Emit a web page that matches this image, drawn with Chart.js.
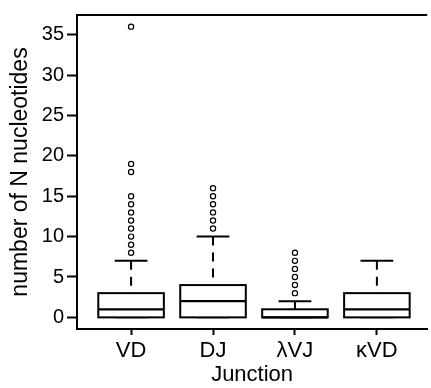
<!DOCTYPE html>
<html>
<head>
<meta charset="utf-8">
<script src="https://cdn.jsdelivr.net/npm/chart.js@4/dist/chart.umd.min.js"></script>
<style>
html, body { margin: 0; padding: 0; background: #fff; overflow: hidden; }
</style>
</head>
<body>
<canvas id="plot" width="431" height="388"></canvas>
<script>
const categories = ["VD", "DJ", "λVJ", "κVD"];
const lowerWhisker = [0, 0, 0, 0];
const q1 = [0, 0, 0, 0];
const median = [1, 2, 0, 1];
const q3 = [3, 4, 1, 3];
const upperWhisker = [7, 10, 2, 7];
const outliers = [
  [8, 9, 10, 11, 12, 13, 14, 15, 18, 19, 36],
  [11, 12, 13, 14, 15, 16],
  [3, 4, 5, 6, 7, 8],
  []
];
const yTicks = [0, 5, 10, 15, 20, 25, 30, 35];

const FONT = "'Liberation Sans', Arial, sans-serif";
const ctx = document.querySelector("#plot").getContext("2d");

const outlierPoints = [];
for (let i = 0; i < outliers.length; i++) {
  for (const v of outliers[i]) outlierPoints.push({ x: i + 1, y: v });
}

// boxes, medians, whiskers and the top frame line
const boxPlugin = {
  id: "boxes",
  beforeDatasetsDraw(chart) {
    const { ctx, chartArea, scales: { x, y } } = chart;
    ctx.save();
    ctx.strokeStyle = "#000";
    ctx.lineWidth = 2;
    ctx.beginPath();
    ctx.moveTo(chartArea.left, chartArea.top);
    ctx.lineTo(chartArea.right, chartArea.top);
    ctx.stroke();

    for (let i = 0; i < categories.length; i++) {
      const c = i + 1;
      const xl = x.getPixelForValue(c - 0.4);
      const xr = x.getPixelForValue(c + 0.4);
      const xc = x.getPixelForValue(c);
      const sl = x.getPixelForValue(c - 0.2);
      const sr = x.getPixelForValue(c + 0.2);
      const yq1 = y.getPixelForValue(q1[i]);
      const yq3 = y.getPixelForValue(q3[i]);
      const ym = y.getPixelForValue(median[i]);
      const yhi = y.getPixelForValue(upperWhisker[i]);
      const ylo = y.getPixelForValue(lowerWhisker[i]);

      // whiskers (dashed)
      ctx.lineWidth = 2;
      ctx.setLineDash([9, 7]);
      ctx.beginPath();
      ctx.moveTo(xc, yhi);
      ctx.lineTo(xc, yq3);
      if (ylo > yq1) {
        ctx.moveTo(xc, ylo);
        ctx.lineTo(xc, yq1);
      }
      ctx.stroke();
      ctx.setLineDash([]);

      // staples
      ctx.beginPath();
      ctx.moveTo(sl, yhi);
      ctx.lineTo(sr, yhi);
      ctx.moveTo(sl, ylo);
      ctx.lineTo(sr, ylo);
      ctx.stroke();

      // box
      ctx.fillStyle = "#fff";
      ctx.fillRect(xl, yq3, xr - xl, yq1 - yq3);
      ctx.strokeRect(xl, yq3, xr - xl, yq1 - yq3);

      // median
      ctx.lineWidth = 2.2;
      ctx.beginPath();
      ctx.moveTo(xl, ym);
      ctx.lineTo(xr, ym);
      ctx.stroke();
    }
    ctx.restore();
  }
};

new Chart(ctx, {
  type: "scatter",
  data: {
    datasets: [{
      data: outlierPoints,
      pointRadius: 2.6,
      pointHoverRadius: 2.6,
      pointBorderWidth: 1.2,
      borderColor: "#000",
      backgroundColor: "rgba(0,0,0,0)"
    }]
  },
  options: {
    responsive: false,
    animation: false,
    layout: { padding: { top: 8, right: 0, bottom: 0, left: 0 } },
    plugins: { legend: { display: false }, tooltip: { enabled: false } },
    scales: {
      x: {
        type: "linear",
        min: 0.34,
        max: 4.614,
        afterBuildTicks: s => { s.ticks = categories.map((c, i) => ({ value: i + 1 })); },
        afterFit: s => { s.height = 59; },
        ticks: {
          callback: v => categories[v - 1],
          color: "#000",
          font: { family: FONT, size: 22 },
          padding: 3,
          maxRotation: 0,
          autoSkip: false
        },
        grid: { display: true, drawOnChartArea: false, drawTicks: true, tickLength: 6, tickWidth: 2, tickColor: "#000", color: "#000" },
        border: { display: true, color: "#000", width: 2 },
        title: { display: true, text: "Junction", color: "#000", font: { family: FONT, size: 22 }, padding: { top: 0, bottom: 0 } }
      },
      y: {
        min: -1.44,
        max: 37.44,
        afterBuildTicks: s => { s.ticks = yTicks.map(v => ({ value: v })); },
        afterFit: s => { s.width = 77; },
        ticks: {
          color: "#000",
          font: { family: FONT, size: 20 },
          padding: 3
        },
        grid: { display: true, drawOnChartArea: false, drawTicks: true, tickLength: 10, tickWidth: 2, tickColor: "#000", color: "#000" },
        border: { display: true, color: "#000", width: 2 },
        title: { display: true, text: "number of N nucleotides", color: "#000", font: { family: FONT, size: 23 }, padding: { top: 7, bottom: 0 } }
      }
    }
  },
  plugins: [boxPlugin]
});
</script>
</body>
</html>
